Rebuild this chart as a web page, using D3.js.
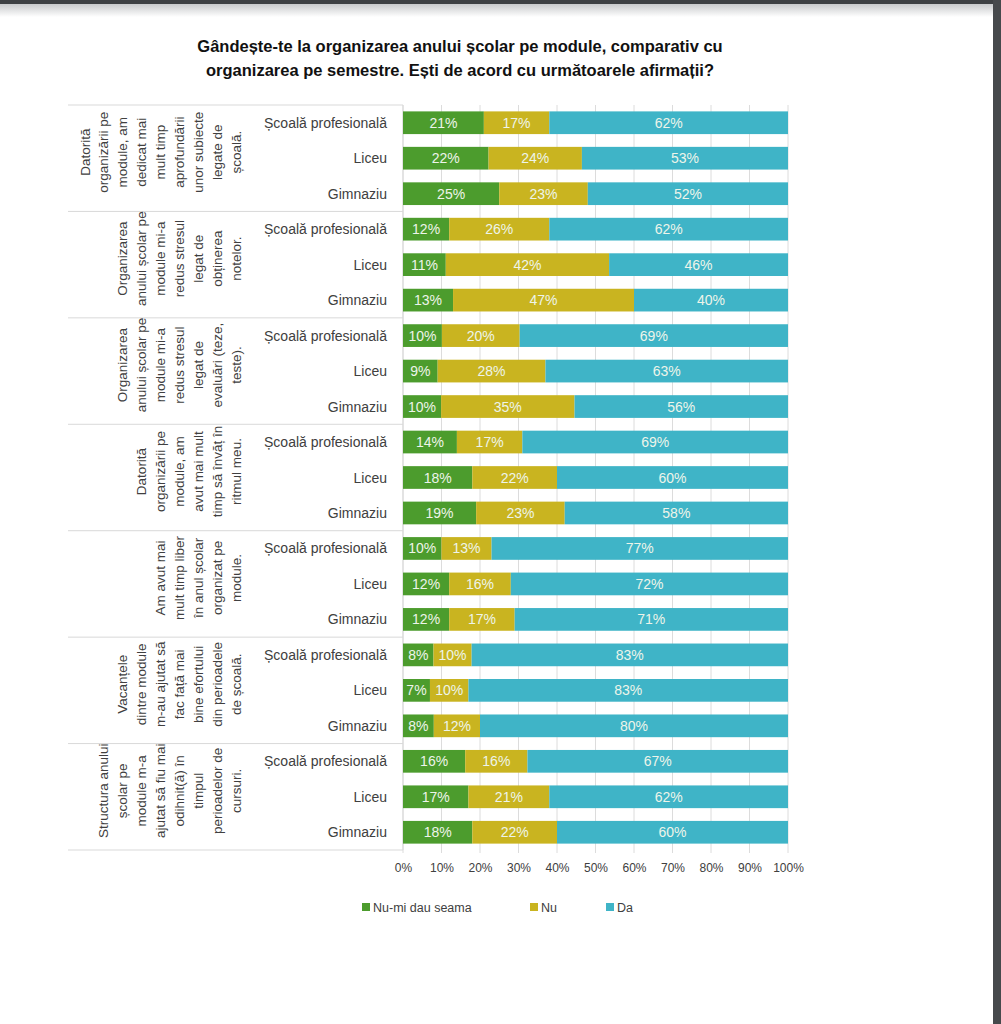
<!DOCTYPE html>
<html>
<head>
<meta charset="utf-8">
<script src="https://cdn.jsdelivr.net/npm/d3@7"></script>
<style>
  body { margin: 0; background: #fff; }
  svg { display: block; font-family: "Liberation Sans", Arial, sans-serif; }
</style>
</head>
<body>
<div id="graph"></div>
<script>
// Date
const titleLines = [
  "Gândește-te la organizarea anului școlar pe module, comparativ cu",
  "organizarea pe semestre. Ești de acord cu următoarele afirmații?"
]
const statements = [
  ["Datorită", "organizării pe", "module, am", "dedicat mai", "mult timp", "aprofundării", "unor subiecte", "legate de", "școală."],
  ["Organizarea", "anului școlar pe", "module mi-a", "redus stresul", "legat de", "obținerea", "notelor."],
  ["Organizarea", "anului școlar pe", "module mi-a", "redus stresul", "legat de", "evaluări (teze,", "teste)."],
  ["Datorită", "organizării pe", "module, am", "avut mai mult", "timp să învăț în", "ritmul meu."],
  ["Am avut mai", "mult timp liber", "în anul școlar", "organizat pe", "module."],
  ["Vacanțele", "dintre module", "m-au ajutat să", "fac față mai", "bine efortului", "din perioadele", "de școală."],
  ["Structura anului", "școlar pe", "module m-a", "ajutat să fiu mai", "odihnit(ă) în", "timpul", "perioadelor de", "cursuri."]
]
const levels = ["Școală profesională", "Liceu", "Gimnaziu"]
const seriesNames = ["Nu-mi dau seama", "Nu", "Da"]
const seriesColors = ["#4c9c2d", "#c9b420", "#3fb4c7"]

const nuMiDauSeama = [21, 22, 25, 12, 11, 13, 10, 9, 10, 14, 18, 19, 10, 12, 12, 8, 7, 8, 16, 17, 18]
const nu = [17, 24, 23, 26, 42, 47, 20, 28, 35, 17, 22, 23, 13, 16, 17, 10, 10, 12, 16, 21, 22]
const da = [62, 53, 52, 62, 46, 40, 69, 63, 56, 69, 60, 58, 77, 72, 71, 83, 83, 80, 67, 62, 60]
const tickLabels = [0, 0.1, 0.2, 0.3, 0.4, 0.5, 0.6, 0.7, 0.8, 0.9, 1]

// tabel pentru stack
const rows = nuMiDauSeama.map((v, i) => ({
  key: "r" + i,
  level: levels[i % 3],
  "Nu-mi dau seama": v,
  "Nu": nu[i],
  "Da": da[i]
}))

const width = 1001, height = 1024

const svg = d3.select("#graph")
  .append("svg")
  .attr("width", width)
  .attr("height", height)

// marginile ferestrei (decor)
const defs = svg.append("defs")
const grad = defs.append("linearGradient").attr("id", "shade").attr("x1", 0).attr("x2", 0).attr("y1", 0).attr("y2", 1)
grad.append("stop").attr("offset", "0%").attr("stop-color", "#c4c6c8")
grad.append("stop").attr("offset", "100%").attr("stop-color", "#ffffff")
svg.append("rect").attr("x", 0).attr("y", 3).attr("width", width).attr("height", 14).attr("fill", "url(#shade)")
svg.append("rect").attr("x", 0).attr("y", 0).attr("width", width).attr("height", 4).attr("fill", "#3e4144")
svg.append("rect").attr("x", 993).attr("y", 0).attr("width", 8).attr("height", height).attr("fill", "#46494c")

// Titlu
svg.append("g").selectAll("text")
  .data(titleLines)
  .join("text")
  .attr("x", 460)
  .attr("y", (d, i) => 52 + i * 24)
  .attr("text-anchor", "middle")
  .style("font-size", "16.5px")
  .style("font-weight", "bold")
  .style("fill", "#111")
  .text(d => d)

// Scale
const x = d3.scaleLinear().domain([0, 1]).range([403, 788])
const y = d3.scaleBand()
  .domain(rows.map(d => d.key))
  .range([105, 850])
  .paddingInner(0.36)
  .paddingOuter(0.18)
const groupH = (850 - 105) / statements.length

// Grila
svg.append("g").selectAll("line")
  .data(tickLabels)
  .join("line")
  .attr("x1", d => x(d)).attr("x2", d => x(d))
  .attr("y1", 105).attr("y2", 853)
  .attr("stroke", "#dcdcdc")
  .attr("stroke-width", 1)

// Separatori intre afirmatii
svg.append("g").selectAll("line")
  .data(d3.range(statements.length + 1))
  .join("line")
  .attr("x1", 68).attr("x2", 403)
  .attr("y1", d => 105 + d * groupH).attr("y2", d => 105 + d * groupH)
  .attr("stroke", "#d9d9d9")
svg.append("line")
  .attr("x1", 403).attr("x2", 403).attr("y1", 105).attr("y2", 850)
  .attr("stroke", "#d9d9d9")

// Bare
const stack = d3.stack().keys(seriesNames).offset(d3.stackOffsetExpand)
const stacked = stack(rows)
const color = d3.scaleOrdinal().domain(seriesNames).range(seriesColors)

const layers = svg.append("g").selectAll("g")
  .data(stacked)
  .join("g")
  .attr("fill", d => color(d.key))

layers.selectAll("rect")
  .data(d => d)
  .join("rect")
  .attr("x", d => x(d[0]))
  .attr("width", d => x(d[1]) - x(d[0]))
  .attr("y", d => y(d.data.key))
  .attr("height", y.bandwidth())

// Etichete valori
layers.selectAll("text")
  .data(d => d.map(p => ({ p: p, key: d.key })))
  .join("text")
  .attr("x", d => (x(d.p[0]) + x(d.p[1])) / 2)
  .attr("y", d => y(d.p.data.key) + y.bandwidth() / 2)
  .attr("dy", "0.36em")
  .attr("text-anchor", "middle")
  .style("font-size", "14px")
  .style("fill", "#eef4ea")
  .text(d => d.p.data[d.key] + "%")

// Categorii (nivel)
svg.append("g").selectAll("text")
  .data(rows)
  .join("text")
  .attr("x", 387)
  .attr("y", d => y(d.key) + y.bandwidth() / 2)
  .attr("dy", "0.36em")
  .attr("text-anchor", "end")
  .style("font-size", "14px")
  .style("fill", "#404040")
  .text(d => d.level)

// Afirmatii (text rotit)
statements.forEach((lines, g) => {
  const cy = 105 + g * groupH + groupH / 2 - 6
  svg.append("g").selectAll("text")
    .data(lines)
    .join("text")
    .attr("transform", (d, i) => "translate(" + (236 - (lines.length - 1 - i) * 18.9) + "," + cy + ") rotate(-90)")
    .attr("dy", "0.35em")
    .attr("text-anchor", "middle")
    .style("font-size", "13.5px")
    .style("fill", "#404040")
    .text(d => d)
})

// Axa X
const xAxis = svg.append("g")
  .attr("transform", "translate(0,860)")
  .call(d3.axisBottom(x).tickValues(tickLabels).tickFormat(d3.format(".0%")).tickSize(0).tickPadding(3))
xAxis.select(".domain").remove()
xAxis.selectAll("text")
  .style("font-size", "12px")
  .style("font-family", "Liberation Sans, Arial, sans-serif")
  .style("fill", "#404040")

// Legenda
const legendX = [362, 530, 606]
const legend = svg.append("g").selectAll("g")
  .data(seriesNames)
  .join("g")
  .attr("transform", (d, i) => "translate(" + legendX[i] + ",907)")
legend.append("rect")
  .attr("x", 0).attr("y", -4)
  .attr("width", 8).attr("height", 8)
  .attr("fill", d => color(d))
legend.append("text")
  .attr("x", 11)
  .attr("dy", "0.36em")
  .style("font-size", "12.5px")
  .style("fill", "#404040")
  .text(d => d)
</script>
</body>
</html>
